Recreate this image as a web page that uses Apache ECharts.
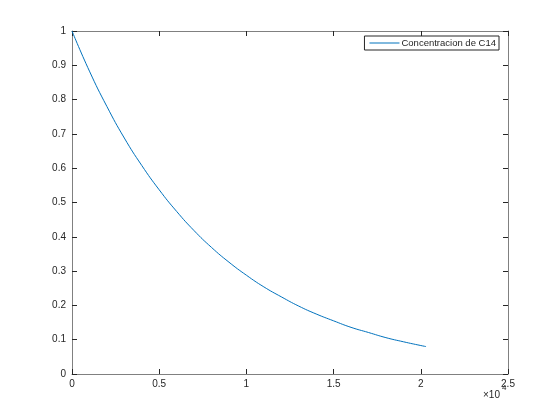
<!DOCTYPE html>
<html><head><meta charset="utf-8">
<script src="https://cdn.jsdelivr.net/npm/echarts@6/dist/echarts.min.js"></script>
<style>html,body{margin:0;padding:0;background:#fff}#c{width:560px;height:420px}</style>
</head><body><div id="c"></div>
<script>
var tiempo = [0,1000,2000,3000,4000,5000,6000,7000,8000,9000,10000,11000,12000,13000,14000,15000,16000,17000,18000,19000,20000,20300];
var concentracion = [1,0.883,0.780,0.688,0.608,0.537,0.474,0.418,0.369,0.326,0.288,0.254,0.225,0.198,0.175,0.155,0.136,0.121,0.106,0.094,0.083,0.080];
var xTicks = [0,0.5,1,1.5,2,2.5];
var yTicks = [0,0.1,0.2,0.3,0.4,0.5,0.6,0.7,0.8,0.9,1];
var seriesName = 'Concentracion de C14';

var font = 'Liberation Sans, Helvetica, Arial, sans-serif';
var axisCol = '#808080', txtCol = '#262626';
var chart = echarts.init(document.getElementById('c'), null, {renderer:'canvas'});
var data = tiempo.map(function(t,i){return [t, concentracion[i]];});
function xAx(pos, show){
  return {type:'value', position:pos, min:0, max:25000, interval:5000,
    axisLine:{show:true, onZero:false, lineStyle:{color:axisCol,width:1}},
    axisTick:{show:true, inside:true, length:5, lineStyle:{color:txtCol}},
    axisLabel:{show:show, color:txtCol, fontFamily:font, fontSize:10, margin:5,
      formatter:function(v){return String(v/10000);}},
    splitLine:{show:false}};
}
function yAx(pos, show){
  return {type:'value', position:pos, min:0, max:1, interval:0.1,
    axisLine:{show:true, onZero:false, lineStyle:{color:axisCol,width:1}},
    axisTick:{show:true, inside:true, length:5, lineStyle:{color:txtCol}},
    axisLabel:{show:show, color:txtCol, fontFamily:font, fontSize:10, margin:6,
      formatter:function(v){return String(Math.round(v*10)/10);}},
    splitLine:{show:false}};
}
chart.setOption({
  animation:false,
  backgroundColor:'#fff',
  grid:{left:72, right:52, top:31, bottom:46, containLabel:false},
  xAxis:[xAx('bottom',true), xAx('top',false)],
  yAxis:[yAx('left',true), yAx('right',false)],
  legend:{show:true, right:61, top:36, orient:'horizontal', padding:[2,3,2,5],
    borderColor:txtCol, borderWidth:1, borderRadius:0, itemWidth:30, itemHeight:10, itemGap:0,
    textStyle:{color:txtCol, fontFamily:font, fontSize:9.5, padding:[0,0,0,-3]},
    data:[{name:seriesName, icon:'path://M0,5 L30,5 L30,6 L0,6 Z'}]},
  graphic:[
    {type:'text', x:483, y:390, z:100, style:{text:'×10', fill:txtCol, fontSize:10, fontFamily:font}},
    {type:'text', x:502, y:384, z:100, style:{text:'4', fill:txtCol, fontSize:8, fontFamily:font}}
  ],
  series:[{name:seriesName, type:'line', data:data, smooth:true, showSymbol:false, symbol:'none',
    xAxisIndex:0, yAxisIndex:0,
    lineStyle:{color:'#0072BD', width:1}, itemStyle:{color:'#0072BD'}}]
});
</script></body></html>
